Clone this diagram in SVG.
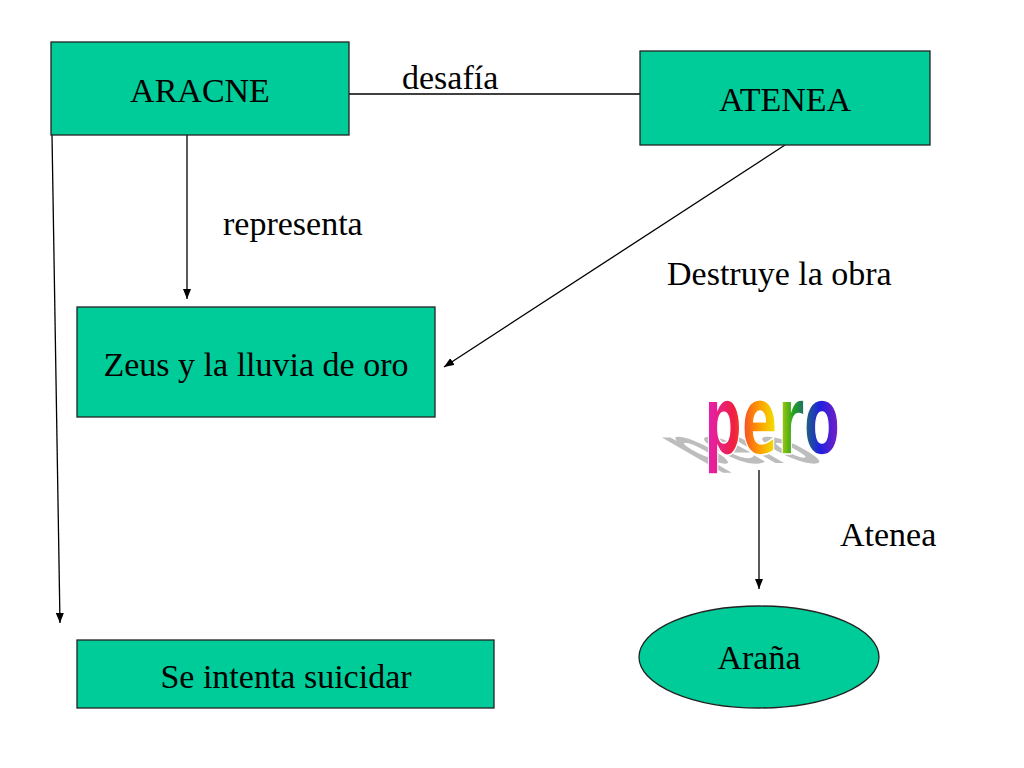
<svg xmlns="http://www.w3.org/2000/svg" width="1024" height="768" viewBox="0 0 1024 768">
<style>
.box{fill:#00CC99;stroke:#222;stroke-width:1.3}
.c{text-anchor:middle}
.ln{stroke:#000;stroke-width:1.3;fill:none}
</style>
<defs>
<marker id="ah" markerWidth="10" markerHeight="8" refX="10" refY="4" orient="auto" markerUnits="userSpaceOnUse">
<path d="M0,0 L10,4 L0,8 z" fill="#000"/>
</marker>
<linearGradient id="rb" x1="0" y1="0" x2="1" y2="0">
<stop offset="0" stop-color="#E020C0"/>
<stop offset="0.22" stop-color="#F02040"/>
<stop offset="0.4" stop-color="#FF9900"/>
<stop offset="0.52" stop-color="#F0E000"/>
<stop offset="0.66" stop-color="#20A020"/>
<stop offset="0.85" stop-color="#2020E0"/>
<stop offset="1" stop-color="#8020C0"/>
</linearGradient>
</defs>
<rect width="1024" height="768" fill="#fff"/>
<g font-family="Liberation Serif, Times New Roman, serif" font-size="34" fill="#000">
<g id="connectors">
<line class="ln" x1="349" y1="94" x2="640" y2="94"/>
<line class="ln" x1="187" y1="135" x2="187" y2="299" marker-end="url(#ah)"/>
<line class="ln" x1="785" y1="145" x2="444" y2="367" marker-end="url(#ah)"/>
<line class="ln" x1="52" y1="135" x2="60" y2="623" marker-end="url(#ah)"/>
<line class="ln" x1="759" y1="470" x2="759" y2="589" marker-end="url(#ah)"/>
<text x="402" y="89">desafía</text>
<text x="223" y="235">representa</text>
<text x="667" y="285">Destruye la obra</text>
<text x="840" y="546">Atenea</text>
</g>
<g id="aracne">
<rect class="box" x="51" y="42" width="298" height="93"/>
<text class="c" x="200" y="102">ARACNE</text>
</g>
<g id="atenea">
<rect class="box" x="640" y="51" width="290" height="94"/>
<text class="c" x="785" y="111">ATENEA</text>
</g>
<g id="zeus">
<rect class="box" x="77" y="307" width="358" height="110"/>
<text class="c" x="256" y="376">Zeus y la lluvia de oro</text>
</g>
<g id="suicidar">
<rect class="box" x="77" y="640" width="417" height="68"/>
<text class="c" x="286" y="688">Se intenta suicidar</text>
</g>
<g id="arana">
<ellipse class="box" cx="759" cy="657" rx="120" ry="51"/>
<text class="c" x="759" y="669">Araña</text>
</g>
</g>
<g id="pero" font-family="DejaVu Sans Condensed, DejaVu Sans, sans-serif" font-weight="bold" font-size="60">
<text fill="#BDBDBD" transform="translate(702,463) skewX(60) scale(0.92,0.78)">pero</text>
<text fill="url(#rb)" stroke="#fff" stroke-width="1" transform="translate(704,454) scale(0.98,1.6)">pero</text>
</g>
</svg>
